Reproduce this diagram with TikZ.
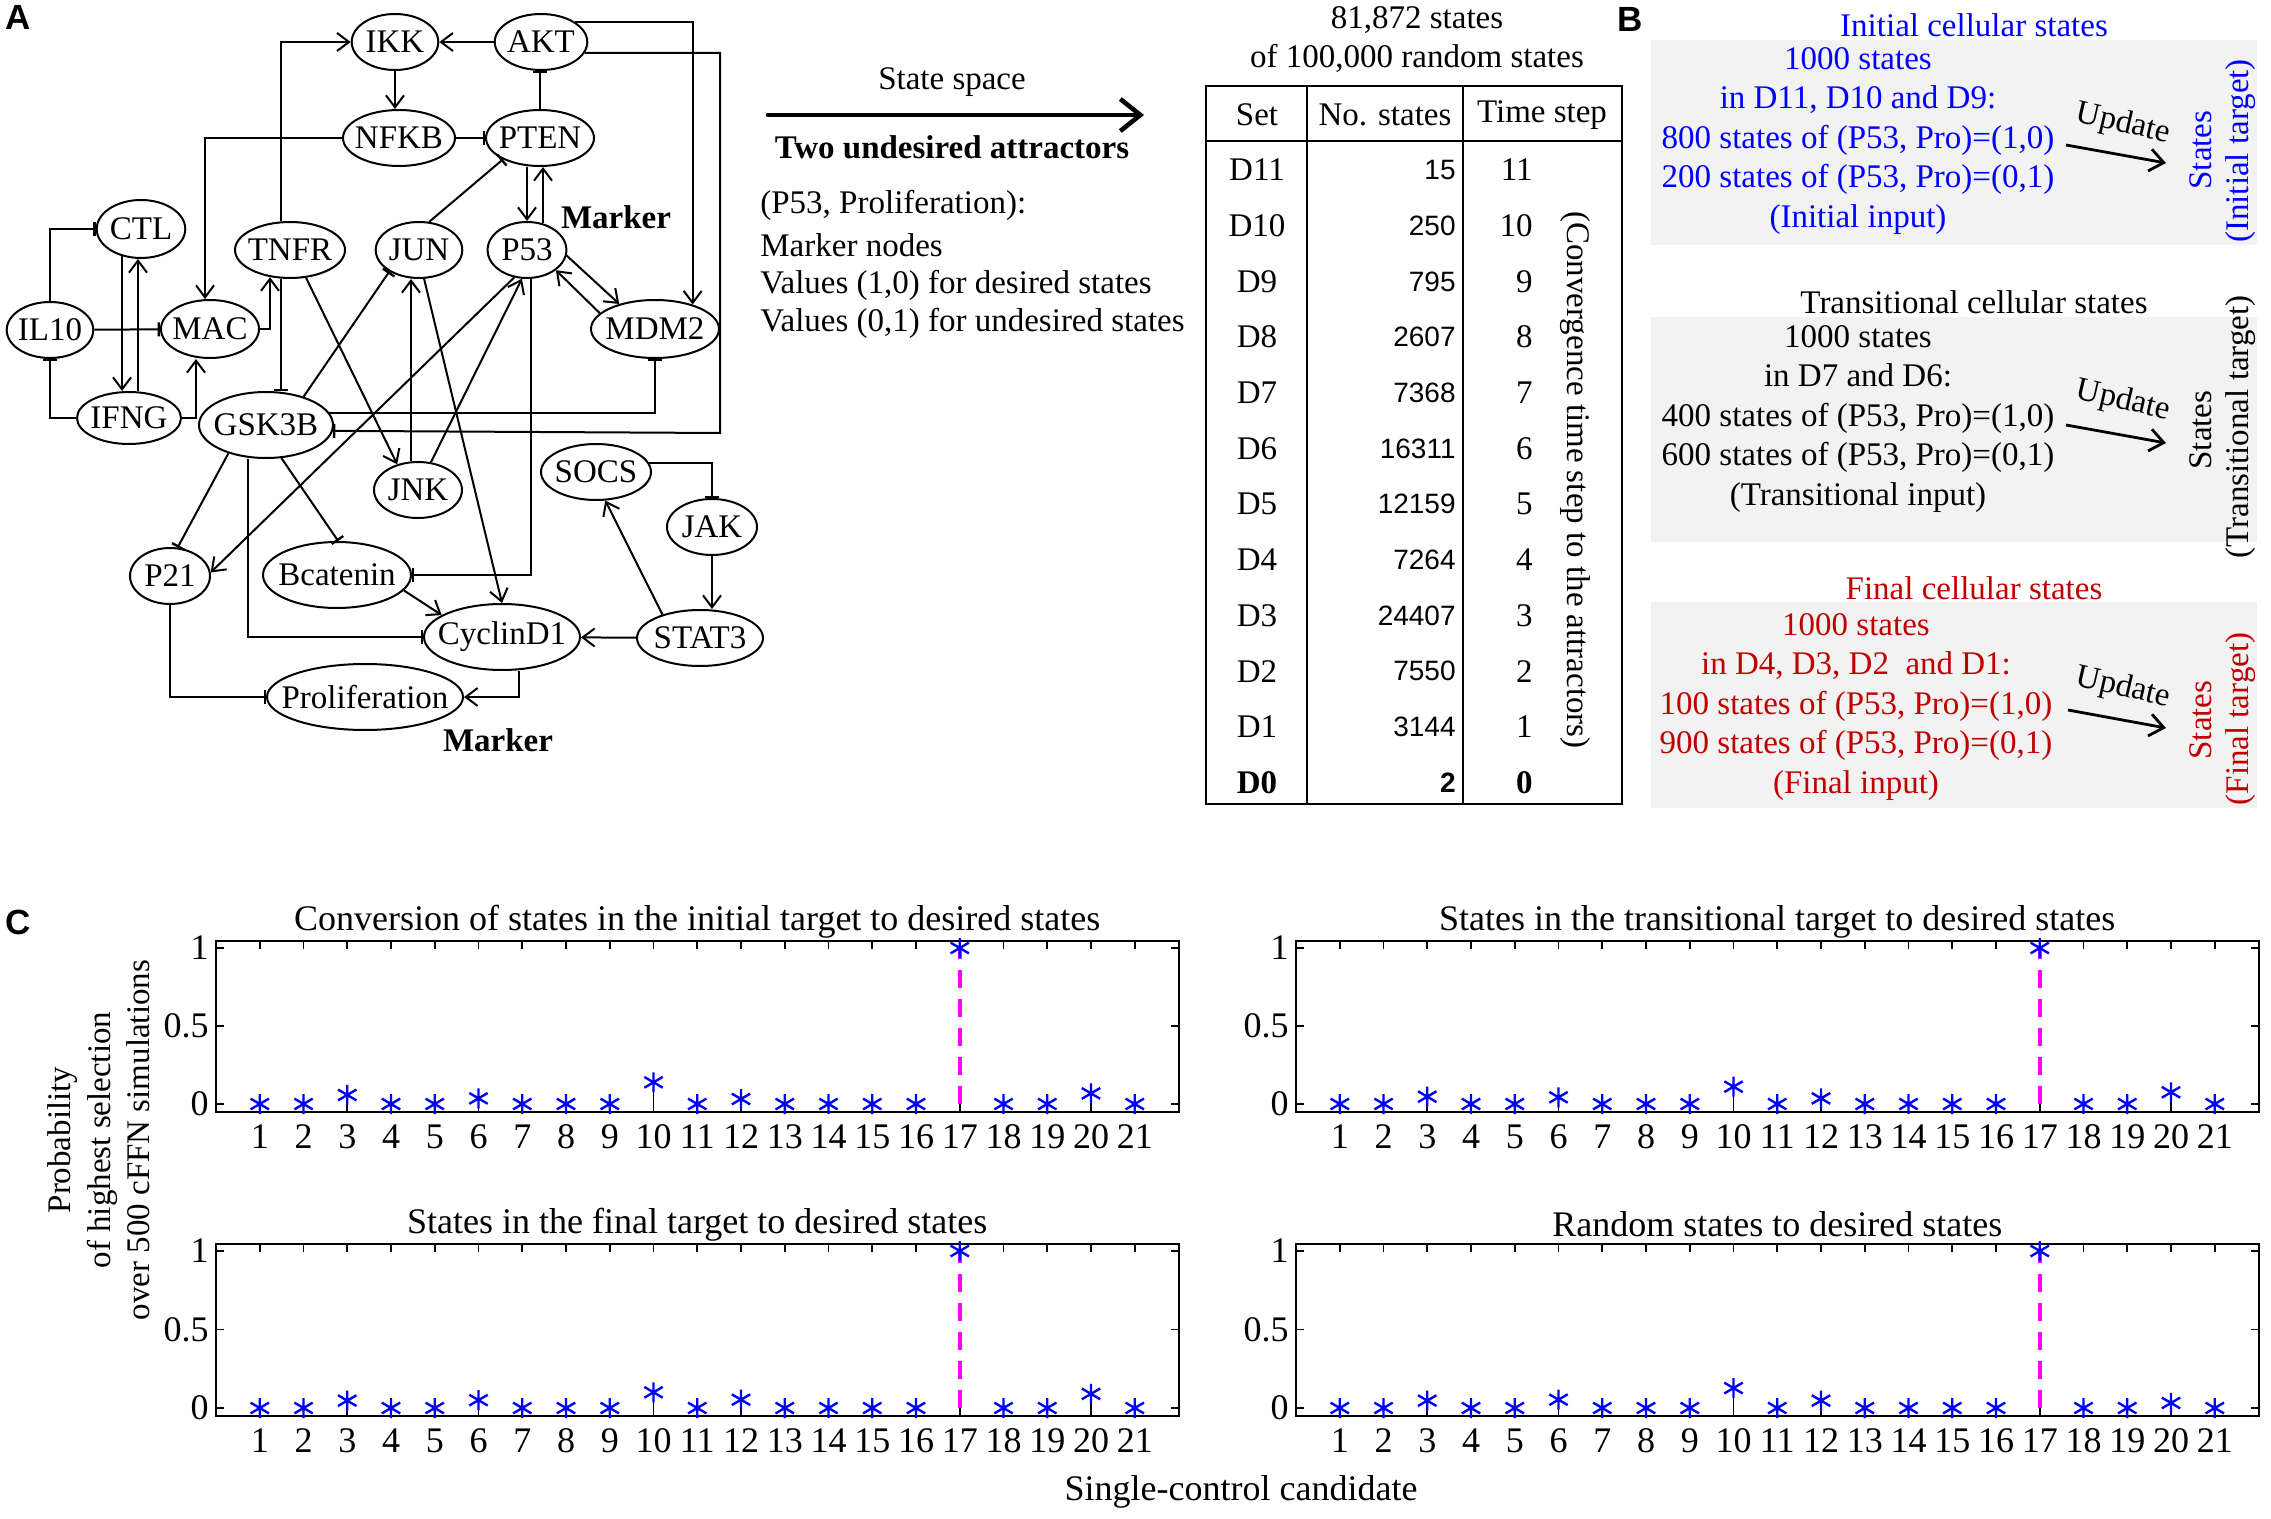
\documentclass[tikz,border=0pt]{standalone}
\usepackage{fontspec}
\setmainfont{Liberation Serif}
\newfontfamily\sansnum{Liberation Sans}
\newfontfamily\labfont{Liberation Sans}
\usetikzlibrary{arrows.meta,shapes.geometric}
\definecolor{bgray}{RGB}{242,242,242}
\definecolor{dred}{RGB}{192,0,0}
\definecolor{mblue}{RGB}{0,0,255}
\definecolor{mmag}{RGB}{255,0,255}
\newcommand\myfs{\fontsize{16.5pt}{19.75pt}\selectfont}
\newcommand\plfs{\fontsize{18pt}{21pt}\selectfont}
\newcommand\numfs{\sansnum\fontsize{14pt}{16pt}\selectfont}
\newcommand\labfs{\labfont\bfseries\fontsize{17.5pt}{20pt}\selectfont}
\newcommand\zb[1]{\makebox[0pt]{#1}}
\tikzset{astk/.pic={\draw[mblue,line width=1.2pt] (0,-5pt)--(0,5pt) (-4.6pt,-2.7pt)--(4.6pt,2.7pt) (-4.6pt,2.7pt)--(4.6pt,-2.7pt);}}
\newcommand\cplot[6]{%
\begin{scope}[xshift=#1pt,yshift=#2pt,x=21.875pt,y=#3pt,font=\plfs]
\draw[line width=1pt] (0,-0.05) rectangle (22,1.045);
\foreach \i in {1,...,21}{
 \draw[line width=0.8pt] (\i,-0.05) -- ++(0,4pt);
 \draw[line width=0.8pt] (\i,1.045) -- ++(0,-4pt);
 \node[yshift=-12.5pt] (#6x\i) at (\i,-0.05) {\i};
}
\foreach \p [count=\j] in {0,0.5,1}{
 \draw[line width=0.8pt] (0,\p) -- ++(4pt,0);
 \draw[line width=0.8pt] (22,\p) -- ++(-4pt,0);
 \node[anchor=east] (#6y\j) at ([xshift=-3.5pt]0,\p) {\p};
}
\node (#6t) at (11,1.17) {#4};
\foreach \i/\v in {#5}{ \ifnum\i=17 \else \draw[line width=0.6pt] (\i,0) -- (\i,\v); \fi }
\draw[mmag, line width=2.2pt, dash pattern=on 9pt off 5.5pt] (17,0) -- (17,1);
\foreach \i/\v in {#5}{ \pic at (\i,\v) {astk}; }
\end{scope}}

\begin{document}
\begin{tikzpicture}[x=0.5pt,y=-0.5pt,font=\myfs,inner sep=0pt,
  gene/.style={draw,ellipse,line width=1pt,inner sep=0pt},
  act/.style={line width=1pt,-{Straight Barb[length=6pt,width=9pt,line width=1pt]}},
  inh/.style={line width=1pt,-{Bar[width=7pt,line width=1.2pt]}},
  upd/.style={line width=1.4pt,-{Straight Barb[length=7pt,width=11pt,line width=1.4pt]}}]
\useasboundingbox (0,0) rectangle (2271,1519);
\fill[white] (0,0) rectangle (2271,1519);

% ---------- Panel A : network ----------
\node[font=\labfs] (labA) at (18,17) {A};
\node[gene,minimum width=43.3pt,minimum height=28pt] (IKK) at (395,42) {\zb{IKK}};
\node[gene,minimum width=46.3pt,minimum height=28pt] (AKT) at (541,42) {\zb{AKT}};
\node[gene,minimum width=56pt,minimum height=28pt] (NFKB) at (399,138) {\zb{NFKB}};
\node[gene,minimum width=54pt,minimum height=28pt] (PTEN) at (540,138) {\zb{PTEN}};
\node[gene,minimum width=44.3pt,minimum height=29pt] (CTL) at (141,229) {\zb{CTL}};
\node[gene,minimum width=55pt,minimum height=28pt] (TNFR) at (290,250) {\zb{TNFR}};
\node[gene,minimum width=43.3pt,minimum height=28pt] (JUN) at (419,250) {\zb{JUN}};
\node[gene,minimum width=39.4pt,minimum height=28pt] (P53) at (527,250) {\zb{P53}};
\node[gene,minimum width=43.3pt,minimum height=28pt] (IL10) at (50,330) {\zb{IL10}};
\node[gene,minimum width=49pt,minimum height=29pt] (MAC) at (210,329) {\zb{MAC}};
\node[gene,minimum width=64pt,minimum height=29pt] (MDM2) at (655,329) {\zb{MDM2}};
\node[gene,minimum width=52pt,minimum height=26pt] (IFNG) at (129,418) {\zb{IFNG}};
\node[gene,minimum width=67pt,minimum height=33pt] (GSK3B) at (266,425) {\zb{GSK3B}};
\node[gene,minimum width=44pt,minimum height=28pt] (JNK) at (418,490) {\zb{JNK}};
\node[gene,minimum width=55pt,minimum height=28pt] (SOCS) at (596,472) {\zb{SOCS}};
\node[gene,minimum width=45pt,minimum height=28pt] (JAK) at (712,527) {\zb{JAK}};
\node[gene,minimum width=63pt,minimum height=28pt] (STAT3) at (700,638) {\zb{STAT3}};
\node[gene,minimum width=40pt,minimum height=28pt] (P21) at (170,576) {\zb{P21}};
\node[gene,minimum width=74pt,minimum height=33pt] (Bcatenin) at (337,575) {\zb{Bcatenin}};
\node[gene,minimum width=78pt,minimum height=33pt] (CyclinD1) at (502,637) {\zb{CyclinD1}};
\node[gene,minimum width=98pt,minimum height=33pt] (Proliferation) at (365,697) {\zb{Proliferation}};
\node[font=\myfs\bfseries] (mk1) at (616,217) {Marker};
\node[font=\myfs\bfseries] (mk2) at (498,740) {Marker};

\draw[act] (AKT) -- (IKK);
\draw[act] ([xshift=-4.5pt]TNFR.north) |- (IKK.west);
\draw[act] (IKK.south) -- (IKK.south |- NFKB.north);
\draw[inh] (PTEN.north) -- (PTEN.north |- AKT.south);
\draw[act] (AKT.30) -| (MDM2.33);
\draw[inh] (AKT.-14) -| (720,433) -- (GSK3B.-5);
\draw[act] (NFKB.west) -| ([xshift=-2.5pt]MAC.north);
\draw[inh] (NFKB) -- (PTEN);
\draw[inh] (JUN.70) -- (PTEN.210);
\draw[act] ([xshift=-6.5pt]PTEN.south) -- ([xshift=-6.5pt]PTEN.south |- P53.north);
\draw[act] ([xshift=8pt,yshift=-1.2pt]P53.north) -- ([xshift=8pt]P53.north |- PTEN.south);
\draw[act] (P53.-8) -- (MDM2.145);
\draw[act] (MDM2.164) -- (P53.-35);
\draw[inh] (IL10.north) |- (CTL.west);
\draw[act] ([xshift=-9.5pt,yshift=1.3pt]CTL.south) -- ([xshift=-9.5pt]CTL.south |- IFNG.north);
\draw[act] ([xshift=4.5pt]IFNG.north) -- ([xshift=4.5pt]IFNG.north |- CTL.south);
\draw[inh] (IL10) -- (MAC);
\draw[act] (MAC.east) -| ([xshift=-10pt,yshift=0.9pt]TNFR.south);
\draw[inh] ([xshift=-4.5pt]TNFR.south) -- ([xshift=-4.5pt]TNFR.south |- GSK3B.north);
\draw[act] (TNFR.-60) -- (JNK.129);
\draw[inh] (GSK3B.37) -- (JUN.216);
\draw[act] ([xshift=-3.5pt]JNK.north) -- ([xshift=-3.5pt]JNK.north |- JUN.south);
\draw[act] (JNK.65) -- (P53.-100);
\draw[act] (P53.-115) -- (P21.5);
\draw[inh] (GSK3B.-143) -- (P21.75);
\draw[act] (JUN.-80) -- (CyclinD1.north);
\draw[inh] ([xshift=2pt]P53.south) |- (Bcatenin.east);
\draw[inh] (GSK3B.-65) -- (Bcatenin.88);
\draw[inh] ([xshift=-9pt]GSK3B.south) |- (CyclinD1.west);
\draw[act] (Bcatenin.-13) -- (CyclinD1.160);
\draw[act] (STAT3) -- (CyclinD1);
\draw[act] (STAT3.148) -- (SOCS.-72);
\draw[inh] (SOCS.10) -| (JAK.north);
\draw[act] (JAK.south) -- (JAK.south |- STAT3.north);
\draw[act] ([xshift=8.5pt]CyclinD1.south) |- (Proliferation.east);
\draw[inh] (P21.south) |- (Proliferation.west);
\draw[act] (IFNG.east) -| ([xshift=-7pt]MAC.south);
\draw[inh] (IFNG.west) -| (IL10.south);
\draw[inh] (GSK3B.11) -| (MDM2.south);

% ---------- Panel A : middle text ----------
\node (ss) at (952,82) {State space};
\coordinate (sa) at (768,115);
\coordinate (sb) at (1144,115);
\draw[line width=2.3pt,line cap=round,-{Straight Barb[length=10pt,width=16pt,line width=2.3pt]}] (sa) -- (sb);
\node[font=\myfs\bfseries] (tua) at (952,147) {Two undesired attractors};
\node[anchor=west] (l1) at (760,205) {(P53, Proliferation):};
\node[anchor=west] (l2) at (760,245) {Marker nodes};
\node[anchor=west] (l3) at (760,285) {Values (1,0) for desired states};
\node[anchor=west] (l4) at (760,323) {Values (0,1) for undesired states};

% ---------- Table ----------
\node (th1) at (1417,20) {81,872 states};
\node (th2) at (1417,58) {of 100,000 random states};
\draw[line width=1pt] (1206,86) rectangle (1622,804);
\draw[line width=1pt] (1307,86) -- (1307,804) (1463,86) -- (1463,804) (1206,141) -- (1622,141);
\node (hset) at (1257,115) {Set};
\node (hnum) at (1385,115) {No. states};
\node (hts) at (1542,115) {Time step};
\foreach \s/\n/\t [count=\k from 0] in {D11/15/11, D10/250/10, D9/795/9, D8/2607/8, D7/7368/7, D6/16311/6, D5/12159/5, D4/7264/4, D3/24407/3, D2/7550/2, D1/3144/1}{
  \pgfmathsetmacro\yy{170+55.7*\k}
  \node (set\k) at (1257,\yy) {\s};
  \node[anchor=east,font=\numfs] (num\k) at (1456,\yy) {\n};
  \node[anchor=east] (ts\k) at (1533,\yy) {\t};
}
\node[font=\myfs\bfseries] (setD0) at (1257,783) {D0};
\node[anchor=east,font=\numfs\bfseries] (numD0) at (1456,783) {2};
\node[anchor=east,font=\myfs\bfseries] (tsD0) at (1533,783) {0};
\node[rotate=-90] (conv) at (1575,480) {(Convergence time step to the attractors)};

% ---------- Panel B ----------
\node[font=\labfs] (labB) at (1630,19) {B};
\fill[bgray] (1651,40) rectangle (2257,245);
\fill[bgray] (1651,317) rectangle (2257,542);
\fill[bgray] (1651,602) rectangle (2257,808);

\node[text=mblue] (t1) at (1974,25) {Initial cellular states};
\node[text=mblue,align=center] (b1) at (1858,141) {1000 states\\in D11, D10 and D9:\\800 states of (P53, Pro)=(1,0)\\200 states of (P53, Pro)=(0,1)\\(Initial input)};
\node[rotate=-13] (u1) at (2123,124) {Update};
\coordinate (u1a) at (2066,145);
\coordinate (u1b) at (2166,163);
\draw[upd] (u1a) -- (u1b);
\node[rotate=90,text=mblue] (s1) at (2201,150) {States};
\node[rotate=90,text=mblue] (g1) at (2241,151) {(Initial target)};

\node (t2) at (1974,302) {Transitional cellular states};
\node[align=center] (b2) at (1858,419) {1000 states\\in D7 and D6:\\400 states of (P53, Pro)=(1,0)\\600 states of (P53, Pro)=(0,1)\\(Transitional input)};
\node[rotate=-13] (u2) at (2123,401) {Update};
\coordinate (u2a) at (2066,425);
\coordinate (u2b) at (2166,443);
\draw[upd] (u2a) -- (u2b);
\node[rotate=90] (s2) at (2201,430) {States};
\node[rotate=90] (g2) at (2241,427) {(Transitional target)};

\node[text=dred] (t3) at (1974,588) {Final cellular states};
\node[text=dred,align=center] (b3) at (1856,707) {1000 states\\in D4, D3, D2~ and D1:\\100 states of (P53, Pro)=(1,0)\\900 states of (P53, Pro)=(0,1)\\(Final input)};
\node[rotate=-13] (u3) at (2123,688) {Update};
\coordinate (u3a) at (2068,710);
\coordinate (u3b) at (2166,728);
\draw[upd] (u3a) -- (u3b);
\node[rotate=90,text=dred] (s3) at (2201,720) {States};
\node[rotate=90,text=dred] (g3) at (2241,719) {(Final target)};

% ---------- Panel C ----------
\node[font=\labfs] (labC) at (18,922) {C};
\cplot{108}{-552}{78}{Conversion of states in the initial target to desired states}{1/0,2/0,3/0.058,4/0,5/0,6/0.036,7/0,8/0,9/0,10/0.139,11/0,12/0.032,13/0,14/0,15/0,16/0,17/1,18/0,19/0,20/0.068,21/0}{pa}
\cplot{648}{-552}{78}{States in the transitional target to desired states}{1/0,2/0,3/0.047,4/0,5/0,6/0.043,7/0,8/0,9/0,10/0.111,11/0,12/0.036,13/0,14/0,15/0,16/0,17/1,18/0,19/0,20/0.075,21/0}{pb}
\cplot{108}{-704}{78.5}{States in the final target to desired states}{1/0,2/0,3/0.047,4/0,5/0,6/0.05,7/0,8/0,9/0,10/0.10,11/0,12/0.053,13/0,14/0,15/0,16/0,17/1,18/0,19/0,20/0.09,21/0}{pc}
\cplot{648}{-704}{78.5}{Random states to desired states}{1/0,2/0,3/0.047,4/0,5/0,6/0.053,7/0,8/0,9/0,10/0.127,11/0,12/0.047,13/0,14/0,15/0,16/0,17/1,18/0,19/0,20/0.032,21/0}{pd}
\node[rotate=90,align=center] (ylab) at (99,1140) {Probability\\of highest selection\\over 500 cFFN simulations};
\node[font=\plfs] (xlab) at (1241,1492) {Single-control candidate};
\end{tikzpicture}
\end{document}
